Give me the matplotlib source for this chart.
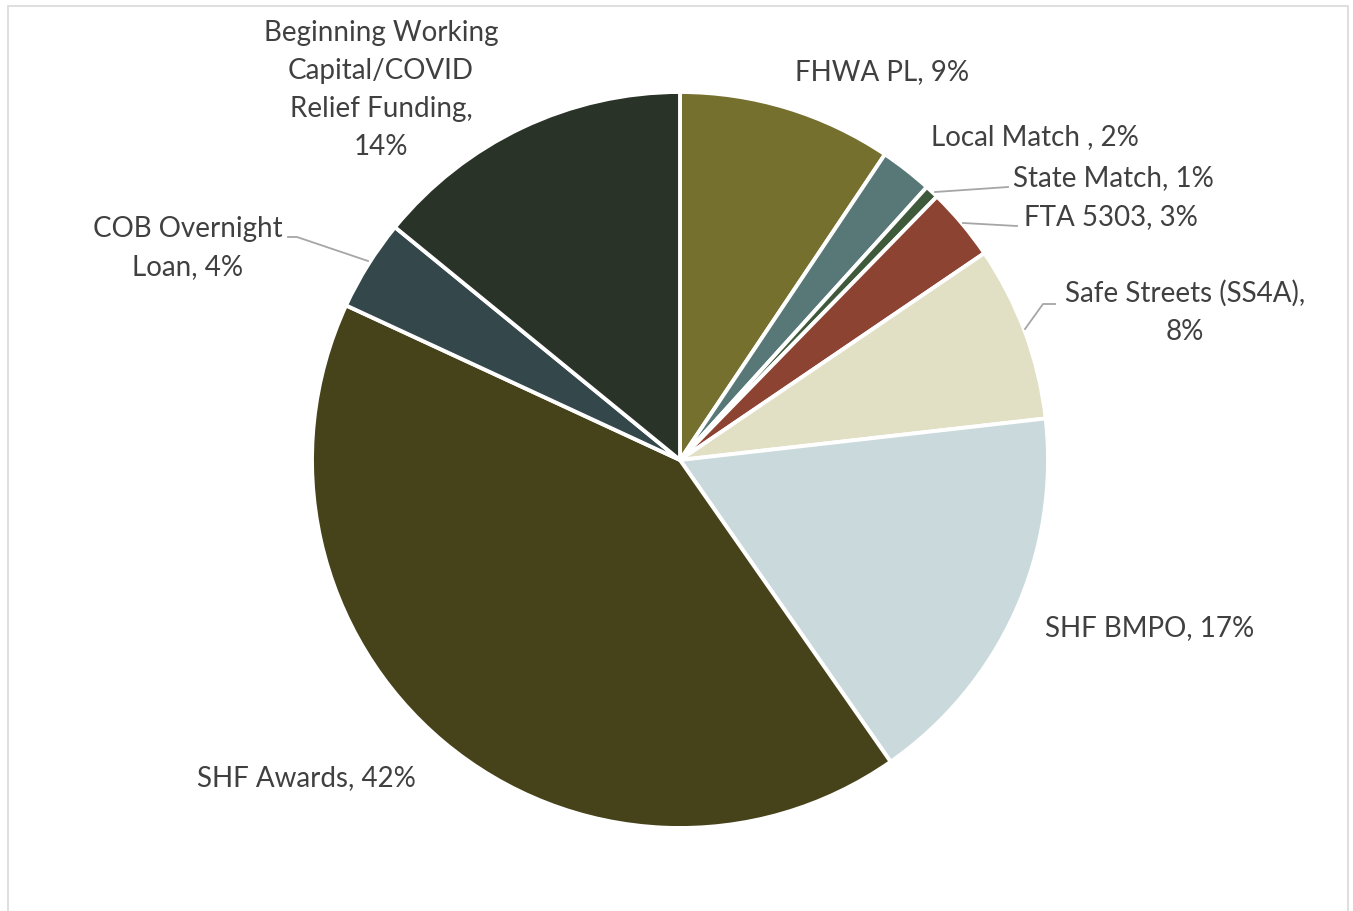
import matplotlib.pyplot as plt
from matplotlib.patches import Rectangle

# funding shares (percent), clockwise from 12 o'clock
sources = ['FHWA PL', 'Local Match ', 'State Match', 'FTA 5303', 'Safe Streets (SS4A)',
           'SHF BMPO', 'SHF Awards', 'COB Overnight\nLoan', 'Beginning Working\nCapital/COVID\nRelief Funding']
shares = [9.4, 2.3, 0.6, 3.2, 7.7, 17.1, 41.6, 4.0, 14.1]
pct_on_new_line = ['Safe Streets (SS4A)', 'Beginning Working\nCapital/COVID\nRelief Funding']
colors = ['#76702E', '#587878', '#3E5A3A', '#8D4332', '#E1DFC4',
          '#C9D9DC', '#46421A', '#34474A', '#293328']

W, H = 1353, 912
fig = plt.figure(figsize=(W / 100, H / 100), dpi=100)
ax = fig.add_axes([0, 0, 1, 1])

# chart area border
ax.add_patch(Rectangle((7.5, -5), 1340, H - 1.5, fill=False, ec='#D9D9D9', lw=1.2))

cx, cy, r = 680, H - 461, 368
ax.pie(shares, colors=colors, startangle=90, counterclock=False,
       center=(cx, cy), radius=r, frame=True,
       wedgeprops=dict(edgecolor='white', linewidth=2.8))
ax.set_xlim(0, W)
ax.set_ylim(0, H)
ax.set_aspect('equal')
ax.axis('off')

labels = []
for s, v in zip(sources, shares):
    sep = ',\n' if s in pct_on_new_line else ', '
    labels.append(f'{s}{sep}{v:.0f}%')

txt = dict(color='#404040', fontsize=20, family='Lato', linespacing=1.58)
# (x, y in pixels from top, ha)
spots = [(795, 72, 'left'), (931, 137, 'left'), (1013, 178, 'left'), (1024, 217, 'left'),
         (1185, 312, 'center'), (1045, 628, 'left'), (197, 778, 'left'),
         (188, 248, 'center'), (381, 90, 'center')]
for lab, (x, y, ha) in zip(labels, spots):
    ax.text(x, H - y, lab, ha=ha, va='center', multialignment='center', **txt)

# leader lines
lc = dict(color='#A6A6A6', lw=1.3)
ax.plot([935, 1008], [H - 193, H - 188], **lc)
ax.plot([963, 1017], [H - 224, H - 227], **lc)
ax.plot([1025, 1043, 1055], [H - 330, H - 305, H - 305], **lc)
ax.plot([368, 297, 288], [H - 262, H - 238, H - 238], **lc)

fig.savefig('out.png', dpi=100, facecolor='white')
